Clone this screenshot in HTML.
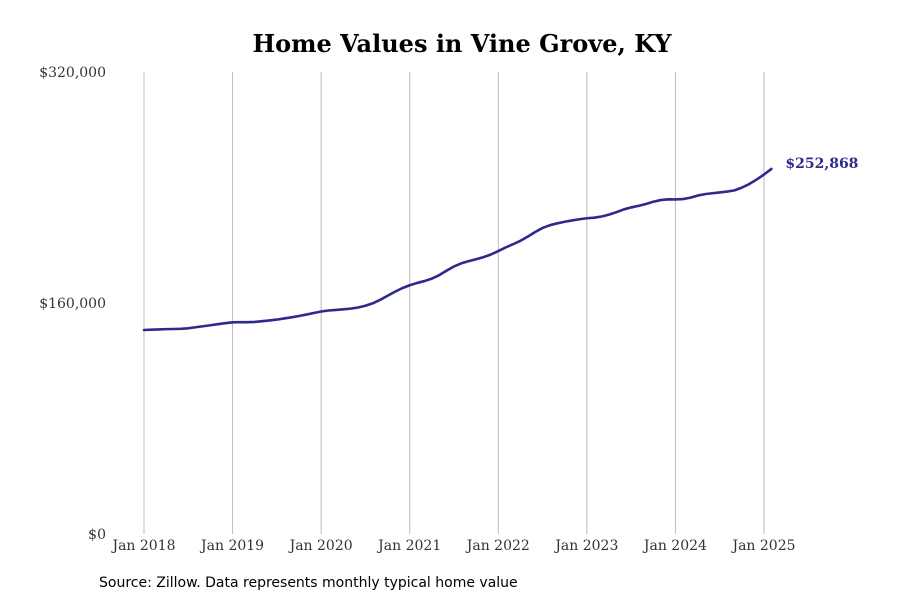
<!DOCTYPE html>
<html><head><meta charset="utf-8"><style>
body{margin:0;background:#fff;}
svg{display:block;}
</style></head><body>
<svg id="chart" width="900" height="600" xmlns="http://www.w3.org/2000/svg">
<text x="462" y="52" text-anchor="middle" font-family="'DejaVu Serif','Liberation Serif',serif" font-weight="bold" font-size="24" fill="#000">Home Values in Vine Grove, KY</text>
<g id="grid"></g><g id="yaxis"></g><g id="xaxis"></g><g id="series"></g>
<text x="99" y="587" font-family="'DejaVu Sans','Liberation Sans',sans-serif" font-size="14" fill="#000">Source: Zillow. Data represents monthly typical home value</text>
</svg>
<script>
const years=["Jan 2018","Jan 2019","Jan 2020","Jan 2021","Jan 2022","Jan 2023","Jan 2024","Jan 2025"];
const yTicks=[0,160000,320000];
const yTickLabels=["$0","$160,000","$320,000"];
const values=[
141300,141500,141700,141900,142000,142100,142500,143200,143900,144600,145300,146000,
146600,146700,146700,146900,147400,147900,148500,149300,150100,151000,152000,153100,
154100,154800,155200,155600,156100,156900,158100,159800,162200,165000,167800,170300,
172300,173900,175200,176900,179300,182400,185300,187500,189000,190300,191800,193600,
196000,198500,200700,203100,206000,209200,212000,213900,215200,216300,217200,218000,
218700,219100,219900,221200,222900,224800,226200,227300,228600,230100,231300,231800,
231700,232000,232900,234400,235400,236000,236600,237200,238000,239900,242400,245500,
249000,252868];
const lastLabel="$252,868";
const NS="http://www.w3.org/2000/svg";
const x0=144,perMonth=88.57/12,yBase=534,yTop=72,yMax=320000;
const xs=i=>x0+i*perMonth;
const ys=v=>yBase-(v/yMax)*(yBase-yTop);
function mk(t,a,p){const e=document.createElementNS(NS,t);for(const k in a)e.setAttribute(k,a[k]);p.appendChild(e);return e;}
const font="'DejaVu Serif','Liberation Serif',serif";
const grid=document.getElementById('grid'),xa=document.getElementById('xaxis'),ya=document.getElementById('yaxis'),se=document.getElementById('series');
years.forEach((y,i)=>{
  const x=xs(i*12);
  const l=mk('line',{x1:x,x2:x,y1:yTop,y2:yBase,stroke:'#bbb','stroke-width':1},grid);
  
  
  const t=mk('text',{x:x,y:550,'text-anchor':'middle','font-family':font,'font-size':14,fill:'#333'},xa);
  t.textContent=y;
  
  
});
yTicks.forEach((v,i)=>{
  const t=mk('text',{x:106,y:ys(v)+5,'text-anchor':'end','font-family':font,'font-size':14,fill:'#333'},ya);
  t.textContent=yTickLabels[i];
  
  
});
let d='';
values.forEach((v,i)=>{d+=(i?'L':'M')+xs(i).toFixed(2)+','+ys(v).toFixed(2);});
const p=mk('path',{d:d,fill:'none',stroke:'#2e2a8c','stroke-width':2.6,'stroke-linejoin':'round','stroke-linecap':'round'},se);


const li=values.length-1;
const lt=mk('text',{x:xs(li)+14,y:ys(values[li])-1,'font-family':font,'font-size':14,'font-weight':'bold',fill:'#2e2a8c'},se);
lt.textContent=lastLabel;


</script>
</body></html>
